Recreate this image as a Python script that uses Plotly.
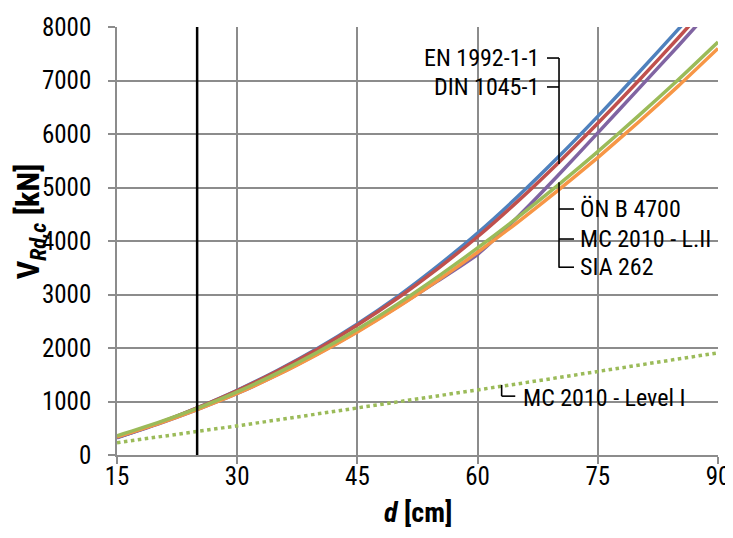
import plotly.graph_objects as go

# ---- data ----
d_cm = [15, 20, 25, 30, 35, 40, 45, 50, 55, 60, 65, 70, 75, 80, 85, 90]
v_en = [320, 580, 880, 1210, 1580, 1990, 2450, 2960, 3530, 4150, 4830, 5560, 6330, 7130, 7950, 8780]
v_din = [330, 585, 880, 1205, 1570, 1975, 2430, 2930, 3480, 4080, 4740, 5450, 6200, 6980, 7790, 8620]
v_oen = [330, 575, 850, 1150, 1500, 1890, 2310, 2770, 3250, 3750, 4450, 5220, 6020, 6830, 7640, 8470]
v_mc2 = [360, 600, 870, 1180, 1530, 1920, 2350, 2820, 3330, 3870, 4440, 5040, 5670, 6330, 7010, 7720]
v_sia = [340, 580, 850, 1150, 1495, 1880, 2300, 2760, 3260, 3790, 4350, 4940, 5560, 6210, 6890, 7600]
v_mc1 = [230, 330, 440, 545, 655, 765, 875, 990, 1100, 1215, 1330, 1445, 1560, 1680, 1795, 1910]
d_limit = 25

x_ticks = [15, 30, 45, 60, 75, 90]
y_ticks = [0, 1000, 2000, 3000, 4000, 5000, 6000, 7000, 8000]

FONT = "Liberation Sans Narrow, Roboto Condensed, Arial Narrow, Roboto, sans-serif"

fig = go.Figure()
series = [
    ("EN 1992-1-1", v_en, "#4F81BD"),
    ("DIN 1045-1", v_din, "#C0504D"),
    ("ÖN B 4700", v_oen, "#8064A2"),
    ("SIA 262", v_sia, "#F79646"),
    ("MC 2010 - L.II", v_mc2, "#9BBB59"),
]
for name, ys, col in series:
    fig.add_trace(go.Scatter(x=d_cm, y=ys, mode="lines", name=name,
                             line=dict(color=col, width=3.5, shape="spline", smoothing=0.6)))
fig.add_trace(go.Scatter(x=d_cm, y=v_mc1, mode="lines", name="MC 2010 - Level I",
                         line=dict(color="#9BBB59", width=3.5, dash="dot")))

# vertical limit line
fig.add_shape(type="line", xref="x", yref="y", x0=d_limit, x1=d_limit, y0=0, y1=8000,
              line=dict(color="black", width=2.5), layer="above")

lc = dict(color="black", width=1.6)
shapes = [
    (68.66, 7420, 70.16, 7420),
    (68.66, 6879, 70.16, 6879),
    (70.16, 7420, 70.16, 5440),
    (70.16, 5100, 70.16, 3500),
    (70.16, 4598, 72.03, 4598),
    (70.16, 4037, 72.03, 4037),
    (70.16, 3510, 72.03, 3510),
    (63.0, 1310, 63.0, 1100),
    (63.0, 1100, 64.7, 1100),
]
for x0, y0, x1, y1 in shapes:
    fig.add_shape(type="line", xref="x", yref="y", x0=x0, y0=y0, x1=x1, y1=y1, line=lc, layer="above")

ann_font = dict(family=FONT, size=24, color="black")
anns = [
    ("EN 1992-1-1", 67.9, 7420, "right"),
    ("DIN 1045-1", 67.9, 6879, "right"),
    ("ÖN B 4700", 72.5, 4598, "left"),
    ("MC 2010 - L.II", 72.5, 4037, "left"),
    ("SIA 262", 72.5, 3510, "left"),
    ("MC 2010 - Level I", 65.4, 1065, "left"),
]
for txt, x, y, anc in anns:
    fig.add_annotation(x=x, y=y, xref="x", yref="y", text=txt, showarrow=False,
                       xanchor=anc, yanchor="middle", font=ann_font)

# axis titles as annotations for precise placement
fig.add_annotation(x=-0.1455, y=0.545, xref="paper", yref="paper", textangle=-90,
                   text="<b>V<sub><i>Rd,c</i></sub> [kN]</b>", showarrow=False,
                   xanchor="center", yanchor="middle", font=dict(family=FONT, size=32))
fig.add_annotation(x=0.5, y=-0.135, xref="paper", yref="paper",
                   text="<b><i>d</i> [cm]</b>", showarrow=False,
                   xanchor="center", yanchor="middle", font=dict(family=FONT, size=28))

grid = "#8C8C8C"
fig.update_layout(
    width=725, height=522,
    margin=dict(l=109, r=15, t=19, b=75, autoexpand=False),
    paper_bgcolor="white", plot_bgcolor="white",
    showlegend=False,
    font=dict(family=FONT, size=25, color="black"),
    xaxis=dict(range=[15, 90], tickvals=x_ticks, showgrid=True, gridcolor=grid, gridwidth=1.5,
               showline=True, linecolor=grid, linewidth=1.5, ticks="outside", ticklen=7,
               tickcolor=grid, tickwidth=1.5, zeroline=False, tickfont=dict(size=25),
               ticklabelstandoff=-9, ticklabeloverflow="allow", automargin=False),
    yaxis=dict(range=[0, 8000], tickvals=y_ticks, showgrid=True, gridcolor=grid, gridwidth=1.5,
               showline=True, linecolor=grid, linewidth=1.5, ticks="outside", ticklen=7,
               tickcolor=grid, tickwidth=1.5, zeroline=False, tickfont=dict(size=25),
               ticklabelstandoff=12, ticklabeloverflow="allow", automargin=False),
)
fig.write_html("out.html")
